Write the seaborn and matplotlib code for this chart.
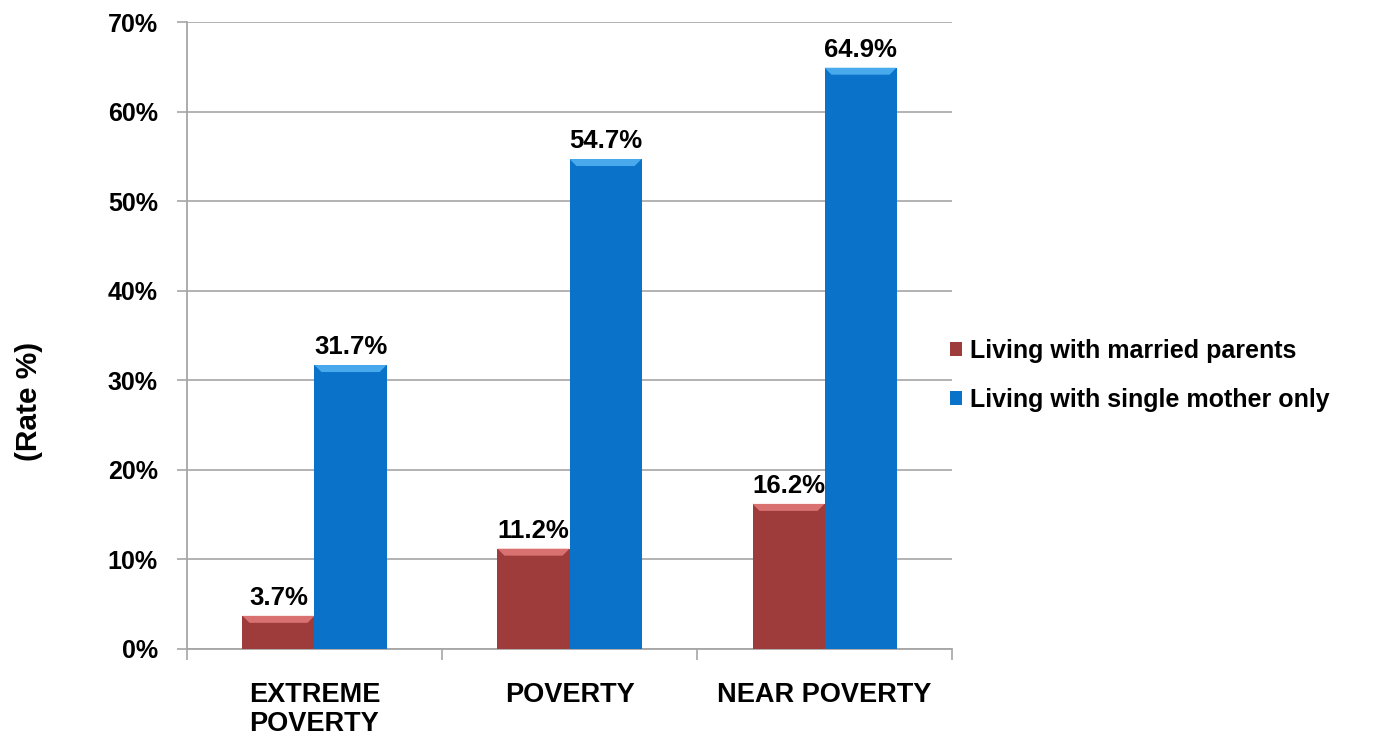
import matplotlib
matplotlib.use("Agg")
import matplotlib.pyplot as plt
import seaborn as sns
import pandas as pd
import numpy as np
from matplotlib.patches import Polygon

categories = ["EXTREME\nPOVERTY", "POVERTY", "NEAR POVERTY"]
series_names = ["Living with married parents", "Living with single mother only"]
married = [3.7, 11.2, 16.2]
single = [31.7, 54.7, 64.9]
yticks = [0, 10, 20, 30, 40, 50, 60, 70]
colors = ["#9E3B3B", "#0A72C9"]
light_colors = ["#E07878", "#4FB0F0"]

df = pd.DataFrame({
    "category": categories * 2,
    "series": [series_names[0]] * 3 + [series_names[1]] * 3,
    "value": married + single,
})

sns.set_theme(style="white")
plt.rcParams["font.family"] = ["Liberation Sans", "DejaVu Sans"]
plt.rcParams["font.weight"] = "bold"
plt.rcParams["text.color"] = "black"
plt.rcParams["axes.labelcolor"] = "black"
plt.rcParams["xtick.color"] = "black"
plt.rcParams["ytick.color"] = "black"

fig = plt.figure(figsize=(13.82, 7.41), dpi=100)
ax = fig.add_axes([0.1353, 0.1242, 0.5536, 0.8461])

sns.barplot(data=df, x="category", y="value", hue="series", order=categories,
            hue_order=series_names, palette=colors, width=0.565, gap=0,
            saturation=1, ax=ax, zorder=3, edgecolor="none", linewidth=0)

ax.set_ylim(0, 70)
ax.set_xlim(-0.5, 2.5)
ax.set_yticks(yticks)
ax.set_yticklabels([f"{v}%" for v in yticks], fontsize=18, fontweight="bold", color="black")
ax.yaxis.grid(True, color="#A6A6A6", linewidth=1.2, zorder=0)
ax.set_axisbelow(True)
ax.xaxis.grid(False)

for s in ["top", "right"]:
    ax.spines[s].set_visible(False)
for s in ["left", "bottom"]:
    ax.spines[s].set_color("#A6A6A6")
    ax.spines[s].set_linewidth(1.3)

ax.tick_params(axis="y", which="major", left=True, length=7, width=1.2,
               color="#A6A6A6", pad=14, labelcolor="black")
ax.set_xticks([0, 1, 2])
ax.set_xticklabels(categories, fontsize=19.5, fontweight="bold", linespacing=1.15,
                   va="top", color="black")
ax.tick_params(axis="x", which="major", length=0, pad=24)
ax.set_xticks([-0.5, 0.5, 1.5, 2.5], minor=True)
ax.tick_params(axis="x", which="minor", bottom=True, length=8, width=1.2, color="#A6A6A6")

ax.set_xlabel("")
ax.set_ylabel("")
fig.text(0.021, 0.458, "(Rate %)", rotation=90, fontsize=21.5, fontweight="bold",
         ha="center", va="center", color="black")

# bevel highlight and value labels derived from the bars seaborn drew
bars = [p for p in ax.patches if p.get_height() > 0]
bars = sorted(bars, key=lambda p: p.get_x())
for p in bars:
    x0, w, h = p.get_x(), p.get_width(), p.get_height()
    fc = p.get_facecolor()
    idx = 0 if np.allclose(fc[:3], matplotlib.colors.to_rgb(colors[0]), atol=0.02) else 1
    d_y = 70 * 7 / (0.8461 * 741)
    d_x = 3 * 7 / (0.5536 * 1382)
    poly = Polygon([(x0, h), (x0 + w, h), (x0 + w - d_x, h - d_y), (x0 + d_x, h - d_y)],
                   closed=True, facecolor=light_colors[idx], edgecolor="none", zorder=4, alpha=0.9)
    ax.add_patch(poly)
    ax.annotate(f"{h:.1f}%", (x0 + w / 2, h), xytext=(0, 4), textcoords="offset points",
                ha="center", va="bottom", fontsize=18.5, fontweight="bold", zorder=5,
                color="black")

handles, labels = ax.get_legend_handles_labels()
if ax.get_legend() is not None:
    ax.get_legend().remove()
fig.legend(handles, labels, loc="center left", bbox_to_anchor=(0.671, 0.493),
           frameon=False, prop={"weight": "bold", "size": 18},
           handlelength=0.5, handleheight=0.5, handletextpad=0.3, labelspacing=1.0,
           labelcolor="black")

fig.savefig("out.png", dpi=100)
